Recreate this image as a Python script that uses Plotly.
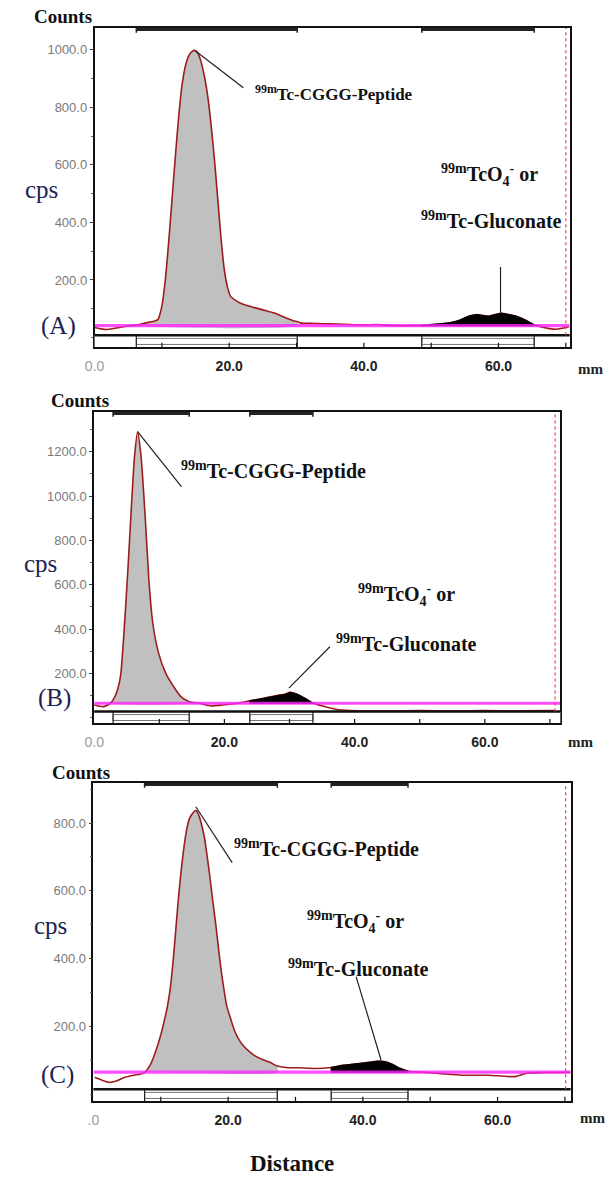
import plotly.graph_objects as go

W, H = 610, 1178

# ---------------- data ----------------
# Panel A
a_mm = [0, 1.0, 1.7, 3.0, 4.5, 6.2, 7.5, 8.5, 9.4, 10.0, 10.5, 11.0, 11.5, 12.0, 12.5, 13.0, 13.5, 14.0,
        14.5, 14.9, 15.3, 15.8, 16.3, 16.8, 17.3, 17.8, 18.3, 18.8, 19.3, 19.8, 20.2, 21.0, 21.6, 22.5,
        23.9, 25.0, 26.7, 28.0, 29.5, 30.1, 30.7, 32, 34, 36, 38, 40, 42, 44.3, 46, 47.5, 48.6, 50, 51.5,
        52.8, 54.0, 55.0, 55.7, 56.8, 57.8, 58.5, 59.5, 60.5, 61.5, 62.5, 63.5, 64.2, 65.3, 66.5, 68.2,
        69.5, 70.5]
a_cps = [35, 30, 28, 32, 38, 43, 50, 55, 62, 110, 200, 330, 480, 630, 770, 880, 945, 980,
         995, 998, 990, 960, 910, 840, 740, 620, 480, 340, 230, 170, 143, 128, 120, 112,
         103, 96, 85, 72, 58, 55, 50, 49, 48, 47, 45, 44, 45, 42, 41, 42, 42, 45, 47,
         51, 58, 68, 75, 80, 76, 74, 80, 84, 80, 75, 66, 58, 44, 36, 29,
         32, 38]
a_base = 41
a_roi = [(6.2, 30.1), (48.6, 65.3)]

# Panel B
b_mm = [0, 0.8, 1.45, 2.0, 2.6, 2.9, 3.4, 3.8, 4.1, 4.6, 5.2, 5.8, 6.2, 6.67, 7.2, 7.8, 8.4, 9.0, 9.9,
        11.0, 12.2, 13.3, 14.6, 16.2, 17.0, 18.0, 19.7, 22.0, 23.9, 25.0, 26.7, 27.5, 28.4, 29.3, 30.1,
        31.3, 32.5, 33.6, 35.4, 37.1, 39.4, 45, 50, 55, 60, 65, 70.8]
b_cps = [57, 52, 50, 56, 68, 80, 110, 150, 200, 395, 680, 997, 1180, 1290, 1178, 922, 621, 426, 290,
         200, 140, 95, 72, 65, 58, 53, 57, 65, 76, 82, 92, 97, 102, 105, 114,
         104, 85, 66, 50, 38, 32, 31, 32, 31, 32, 31, 32]
b_base = 65
b_roi = [(2.9, 14.6), (23.9, 33.6)]

# Panel C
c_mm = [0.2, 1.2, 2.4, 3.5, 4.7, 6.0, 6.9, 7.6, 8.4, 9.2, 10.0, 10.5, 11.0, 11.5, 12.0, 12.6, 13.2,
        13.75, 14.2, 14.6, 15.0, 15.3, 15.6, 16.0, 16.5, 16.9, 17.3, 17.7, 18.2, 18.6, 19.0, 19.4, 19.8,
        20.3, 21.0, 21.7, 22.3, 23.2, 24.0, 25.0, 26.2, 27.3, 28.5, 30.5, 33.0, 35.3, 37.0, 38.5, 39.9,
        41.2, 42.4, 43.5, 44.4, 45.3, 46.7, 49.0, 52.0, 54.7, 58.6, 62.6, 64.3, 67.0, 70.8]
c_cps = [50, 42, 35, 40, 50, 56, 59, 64, 85, 124, 175, 215, 260, 326, 430, 573, 690,
         770, 810, 825, 835, 836, 825, 800, 755, 700, 640, 573, 495, 425, 360, 306, 260,
         227, 185, 158, 142, 125, 113, 103, 94, 83, 79, 78, 76, 79, 85, 88, 91,
         95, 98, 95, 88, 78, 68, 65, 60, 56, 56, 52, 62, 64, 65]
c_base = 65
c_roi = [(7.6, 27.3), (35.3, 46.7)]

a_yticks = [200, 400, 600, 800, 1000]
b_yticks = [200, 400, 600, 800, 1000, 1200]
c_yticks = [200, 400, 600, 800]
x_ticks = [0, 10, 20, 30, 40, 50, 60, 70]
x_labels_ab = ['<span style="color:#9a9a9a;font-weight:normal">0.0</span>', '', '<b>20.0</b>', '',
               '<b>40.0</b>', '', '<b>60.0</b>', '']
x_labels_c = ['<span style="color:#9a9a9a;font-weight:normal">.0</span>', '', '<b>20.0</b>', '',
              '<b>40.0</b>', '', '<b>60.0</b>', '']

peptide = '<b><sup>99m</sup>Tc-CGGG-Peptide</b>'
pertech = '<b><sup>99m</sup>TcO<sub>4</sub><sup>-</sup> or</b>'
glucon = '<b><sup>99m</sup>Tc-Gluconate</b>'

# ---------------- layout geometry (pixels) ----------------
panels = [
    dict(name='A', mm=a_mm, cps=a_cps, base=a_base, roi=a_roi, yticks=a_yticks, xlab=x_labels_ab,
         xpx=(86, 569), ypx=(28, 347), xr=(0, 70.57), yr=(-33, 1076), red=70.0,
         pep_line=((14.9, 998), (22.1, 868)), pep_txt=(23.5, 850, 17),
         ox_txt=(58.6, 565, 20), gl_txt=(59.0, 409, 20), gl_line=((60.3, 245), (60.3, 84)),
         counts=(54, 16), cps_lab=(32, 189), tag=(49, 326), mm_lab=(590, 369)),
    dict(name='B', mm=b_mm, cps=b_cps, base=b_base, roi=b_roi, yticks=b_yticks, xlab=x_labels_ab,
         xpx=(85.6, 559.5), ypx=(412, 723), xr=(0, 71.6), yr=(-24, 1379), red=70.8,
         pep_line=((6.67, 1290), (13.4, 1042)), pep_txt=(13.0, 1117, 20),
         ox_txt=(47.9, 553, 20), gl_txt=(47.9, 337, 20), gl_line=((36.2, 320), (29.9, 133)),
         counts=(71, 400), cps_lab=(31, 563), tag=(45, 698), mm_lab=(580, 742)),
    dict(name='C', mm=c_mm, cps=c_cps, base=c_base, roi=c_roi, yticks=c_yticks, xlab=x_labels_c,
         xpx=(84.8, 570), ypx=(783, 1101), xr=(0, 70.85), yr=(-20, 918), red=70.1,
         pep_line=((15.2, 848), (20.6, 683)), pep_txt=(20.6, 725, 20),
         ox_txt=(38.9, 509, 20), gl_txt=(39.3, 372, 20), gl_line=((39.0, 347), (42.7, 101)),
         counts=(72, 772), cps_lab=(41, 925), tag=(48, 1075), mm_lab=(592, 1118)),
]

fig = go.Figure()
shapes = []
annotations = []
SERIF = 'Liberation Serif'
SANS = 'Liberation Sans'
STRIP = 0.037

for i, p in enumerate(panels):
    k = '' if i == 0 else str(i + 1)
    xa, ya = 'x' + k, 'y' + k
    xref_dom, yref_dom = xa + ' domain', ya + ' domain'
    mm, cps, base = p['mm'], p['cps'], p['base']

    # gray ROI peak fill
    lo, hi = p['roi'][0]
    xs = [m for m in mm if lo <= m <= hi]
    ys = [c for m, c in zip(mm, cps) if lo <= m <= hi]
    fig.add_trace(go.Scatter(x=[lo] + xs + [hi, lo], y=[base] + ys + [base, base], xaxis=xa, yaxis=ya,
                             mode='lines', fill='toself', fillcolor='#c0c0c0',
                             line=dict(width=0, shape='spline', smoothing=0.6),
                             hoverinfo='skip', showlegend=False))
    # curve
    fig.add_trace(go.Scatter(x=mm, y=cps, xaxis=xa, yaxis=ya, mode='lines',
                             line=dict(color='#9e1c1c', width=1.6, shape='spline', smoothing=0.6),
                             hoverinfo='skip', showlegend=False))
    # second (black) peak on top
    lo, hi = p['roi'][1]
    xs = [m for m in mm if lo <= m <= hi]
    ys = [c for m, c in zip(mm, cps) if lo <= m <= hi]
    fig.add_trace(go.Scatter(x=[lo] + xs + [hi, lo], y=[base] + ys + [base, base], xaxis=xa, yaxis=ya,
                             mode='lines', fill='toself', fillcolor='#000000',
                             line=dict(width=1.2, color='#000000'),
                             hoverinfo='skip', showlegend=False))
    # magenta baseline
    fig.add_trace(go.Scatter(x=[p['xr'][0], p['xr'][1]], y=[base, base], xaxis=xa, yaxis=ya, mode='lines',
                             line=dict(color='#ff22ff', width=3.2), opacity=0.8,
                             hoverinfo='skip', showlegend=False))

    # axes
    x0p, x1p = p['xpx']
    y0p, y1p = p['ypx']
    fig.layout['xaxis' + k] = dict(domain=[x0p / W, x1p / W], range=list(p['xr']), anchor=ya,
                                   showline=True, mirror=True, linecolor='#111', linewidth=1.6,
                                   ticks='inside', ticklen=4, tickwidth=1.2, tickcolor='#111',
                                   tickvals=x_ticks, ticktext=p['xlab'], ticklabelstandoff=5,
                                   tickfont=dict(family=SANS, size=14, color='#222'),
                                   showgrid=False, zeroline=False, fixedrange=True)
    fig.layout['yaxis' + k] = dict(domain=[1 - y1p / H, 1 - y0p / H], range=list(p['yr']), anchor=xa,
                                   showline=True, mirror=True, linecolor='#111', linewidth=1.6,
                                   ticks='outside', ticklen=3, tickcolor='#444',
                                   tickvals=p['yticks'], ticktext=['%.1f' % v for v in p['yticks']],
                                   tickfont=dict(family=SANS, size=13, color='#7a7a7a'),
                                   minor=dict(dtick=100, ticklen=2, tickcolor='#666', ticks='outside'),
                                   showgrid=False, zeroline=False, fixedrange=True)

    # strip under the trace
    shapes.append(dict(type='rect', xref=xref_dom, yref=yref_dom, x0=0, x1=1, y0=0, y1=STRIP,
                       fillcolor='white', line=dict(width=0), layer='above'))
    for (lo, hi) in p['roi']:
        shapes.append(dict(type='rect', xref=xa, yref=yref_dom, x0=lo, x1=hi, y0=0.008, y1=STRIP - 0.01,
                           fillcolor='white', line=dict(color='#777', width=1), layer='above'))
        for xv in (lo, hi):
            shapes.append(dict(type='line', xref=xa, yref=yref_dom, x0=xv, x1=xv, y0=0, y1=STRIP,
                               line=dict(color='#222', width=1.2), layer='above'))
        # markers on top edge
        shapes.append(dict(type='line', xref=xa, yref=yref_dom, x0=lo, x1=hi, y0=0.996, y1=0.996,
                           line=dict(color='#222', width=3.5), layer='above'))
        for xv in (lo, hi):
            shapes.append(dict(type='line', xref=xa, yref=yref_dom, x0=xv, x1=xv, y0=1, y1=0.985,
                               line=dict(color='#222', width=1.5), layer='above'))
    shapes.append(dict(type='line', xref=xref_dom, yref=yref_dom, x0=0, x1=1, y0=STRIP, y1=STRIP,
                       line=dict(color='#111', width=2.5), layer='above'))
    for xv in x_ticks:
        if p['xr'][0] < xv < p['xr'][1]:
            shapes.append(dict(type='line', xref=xa, yref=yref_dom, x0=xv, x1=xv, y0=0, y1=0.013,
                               line=dict(color='#111', width=1.2), layer='above'))
    # red dashed end marker
    shapes.append(dict(type='line', xref=xa, yref=yref_dom, x0=p['red'], x1=p['red'], y0=STRIP, y1=1,
                       line=dict(color='#ff3b3b', width=1.2, dash='dot'), layer='above'))

    # leader lines
    (lx0, ly0), (lx1, ly1) = p['pep_line']
    shapes.append(dict(type='line', xref=xa, yref=ya, x0=lx0, y0=ly0, x1=lx1, y1=ly1,
                       line=dict(color='#222', width=1.2)))
    (gx0, gy0), (gx1, gy1) = p['gl_line']
    shapes.append(dict(type='line', xref=xa, yref=ya, x0=gx0, y0=gy0, x1=gx1, y1=gy1,
                       line=dict(color='#222', width=1.2)))

    tx, ty, fs = p['pep_txt']
    annotations.append(dict(xref=xa, yref=ya, x=tx, y=ty, text=peptide, showarrow=False, xanchor='left',
                            font=dict(family=SERIF, size=fs, color='#111')))
    tx, ty, fs = p['ox_txt']
    annotations.append(dict(xref=xa, yref=ya, x=tx, y=ty, text=pertech, showarrow=False, xanchor='center',
                            font=dict(family=SERIF, size=fs, color='#111')))
    tx, ty, fs = p['gl_txt']
    annotations.append(dict(xref=xa, yref=ya, x=tx, y=ty, text=glucon, showarrow=False, xanchor='center',
                            font=dict(family=SERIF, size=fs, color='#111')))

    cx, cy = p['counts']
    annotations.append(dict(xref='paper', yref='paper', x=cx / W, y=1 - cy / H, text='<b>Counts</b>',
                            showarrow=False, xanchor='center', yanchor='middle',
                            font=dict(family=SERIF, size=19, color='#111')))
    cx, cy = p['cps_lab']
    annotations.append(dict(xref='paper', yref='paper', x=cx / W, y=1 - cy / H, text='cps',
                            showarrow=False, xanchor='center', yanchor='middle',
                            font=dict(family=SERIF, size=25, color='#1b2454')))
    cx, cy = p['tag']
    annotations.append(dict(xref='paper', yref='paper', x=cx / W, y=1 - cy / H, text='(%s)' % p['name'],
                            showarrow=False, xanchor='center', yanchor='middle',
                            font=dict(family=SERIF, size=25, color='#1b2454')))
    cx, cy = p['mm_lab']
    annotations.append(dict(xref='paper', yref='paper', x=cx / W, y=1 - cy / H, text='<b>mm</b>',
                            showarrow=False, xanchor='center', yanchor='middle',
                            font=dict(family=SERIF, size=15, color='#222')))

annotations.append(dict(xref='paper', yref='paper', x=287 / W, y=1 - 1163 / H, text='<b>Distance</b>',
                        showarrow=False, xanchor='center', yanchor='middle',
                        font=dict(family=SERIF, size=23, color='#111')))

fig.update_layout(width=W, height=H, autosize=False, margin=dict(l=0, r=0, t=0, b=0),
                  paper_bgcolor='white', plot_bgcolor='white', showlegend=False,
                  shapes=shapes, annotations=annotations)

fig.write_html('out.html', config={'displayModeBar': False},
               post_script="document.body.style.margin='0px';document.body.style.overflow='hidden';")
